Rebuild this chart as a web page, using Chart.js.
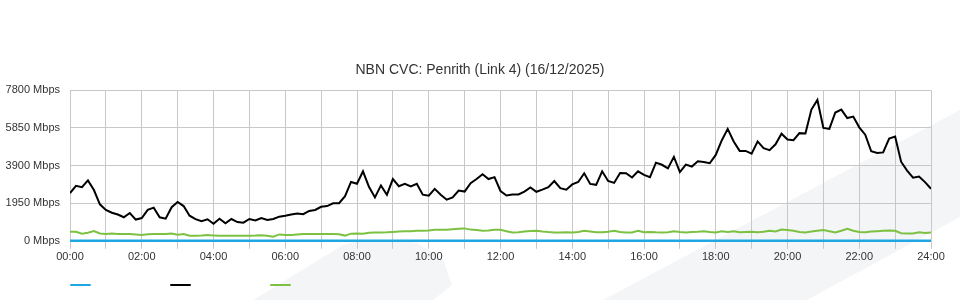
<!DOCTYPE html>
<html>
<head>
<meta charset="utf-8">
<title>NBN CVC: Penrith (Link 4)</title>
<script src="https://cdn.jsdelivr.net/npm/chart.js@4/dist/chart.umd.min.js"></script>
<style>
  html, body { margin: 0; padding: 0; background: #fff; }
  #wrap { position: relative; width: 960px; height: 300px; overflow: hidden; }
  #bg { position: absolute; left: 0; top: 0; }
  #chart { position: absolute; left: 0; top: 0; }
  #legend { position: absolute; left: 70px; top: 284px; display: flex; }
  #legend span { display: block; width: 21px; height: 2px; margin-right: 79px; border-radius: 1px; }
</style>
</head>
<body>
<div id="wrap">
  <!-- faint watermark behind the chart -->
  <svg id="bg" width="960" height="300">
    <path d="M253,300 L343,245 Q372,236 417,243 L443,259 L452,285 L433,300 Z" fill="#f4f5f7"/>
    <path d="M603,300 L960,110 L960,217 L807,300 Z" fill="#f4f5f7"/>
  </svg>
  <canvas id="chart" width="960" height="300"></canvas>
  <div id="legend"></div>
</div>
<script>
// ==================== DATA (10 minute samples, Mbps) ====================
const yTicks = [0, 1950, 3900, 5850, 7800];

const cvcTraffic = [
  2468, 2850, 2780, 3130, 2630, 1890, 1600, 1455, 1363, 1220, 1440, 1100,
  1180, 1600, 1720, 1220, 1150, 1739, 2015, 1800, 1300, 1120, 1010, 1115,
  880, 1140, 904, 1130, 970, 940, 1130, 1050, 1180, 1080, 1130, 1252,
  1300, 1365, 1415, 1380, 1550, 1600, 1760, 1800, 1940, 1948, 2313, 3050,
  2955, 3600, 2800, 2250, 2870, 2380, 3200, 2830, 2950, 2820, 2955, 2390,
  2340, 2690, 2384, 2130, 2250, 2608, 2550, 2990, 3200, 3450, 3200, 3300,
  2580, 2350, 2400, 2400, 2550, 2760, 2540, 2650, 2780, 3100, 2730, 2650,
  2922, 3050, 3500, 2950, 2900, 3600, 3100, 3000, 3513, 3500, 3280, 3600,
  3420, 3300, 4050, 3940, 3750, 4350, 3565, 3950, 3850, 4120, 4080, 4020,
  4450, 5200, 5800, 5150, 4660, 4660, 4520, 5150, 4800, 4700, 5000, 5550,
  5250, 5217, 5580, 5566, 6800, 7300, 5850, 5800, 6650, 6800, 6360, 6440,
  5880, 5500, 4640, 4550, 4580, 5300, 5400, 4100, 3640, 3270, 3330, 3040,
  2697
];

const cvcOther = [
  470, 470, 370, 420, 500, 380, 350, 380, 350, 350, 350, 330,
  300, 340, 350, 350, 350, 380, 320, 350, 260, 260, 270, 300,
  280, 260, 260, 260, 260, 260, 260, 270, 290, 260, 210, 330,
  300, 300, 330, 350, 350, 350, 350, 350, 350, 340, 270, 370,
  380, 370, 420, 430, 430, 440, 460, 485, 490, 500, 520, 520,
  540, 574, 574, 574, 600, 620, 643, 580, 560, 520, 540, 574,
  570, 500, 433, 440, 480, 510, 520, 480, 450, 430, 430, 440,
  430, 460, 520, 480, 440, 440, 470, 520, 460, 430, 430, 520,
  440, 460, 440, 430, 440, 500, 460, 430, 450, 470, 500, 460,
  430, 490, 460, 490, 440, 460, 470, 440, 470, 520, 480, 580,
  560, 520, 460, 433, 480, 520, 560, 500, 433, 520, 620, 520,
  460, 440, 480, 500, 520, 540, 520, 390, 380, 380, 440, 400,
  433
];

const cvcZero = cvcTraffic.map(() => 0);

// time of day in hours for each sample
const hours = cvcTraffic.map((_, i) => i / 6);

const seriesColors = ['#1ea7e1', '#000000', '#7cc142'];

function toPoints(vals) {
  return vals.map((v, i) => ({ x: hours[i], y: v }));
}

const FONT = '"Liberation Sans", Arial, Helvetica, sans-serif';

// centre the title on the whole canvas, not on the padded box
const centreTitle = {
  id: 'centreTitle',
  afterLayout(chart) {
    const t = chart.titleBlock;
    if (!t) return;
    t.left = 0;
    t.right = chart.width;
    t.width = chart.width;
  }
};

const chart = new Chart(document.getElementById('chart'), {
  type: 'line',
  data: {
    datasets: [
      { label: '', data: toPoints(cvcZero), borderColor: seriesColors[0], backgroundColor: seriesColors[0], borderWidth: 2.5, pointRadius: 0, clip: 4, order: 0 },
      { label: '', data: toPoints(cvcTraffic), borderColor: seriesColors[1], backgroundColor: seriesColors[1], borderWidth: 2, pointRadius: 0, tension: 0, order: 1 },
      { label: '', data: toPoints(cvcOther), borderColor: seriesColors[2], backgroundColor: seriesColors[2], borderWidth: 2, pointRadius: 0, tension: 0, order: 2 }
    ]
  },
  plugins: [centreTitle],
  options: {
    responsive: false,
    animation: false,
    layout: { padding: { top: 0, right: 29, bottom: 34, left: 0 } },
    plugins: {
      legend: { display: false },
      tooltip: { enabled: false },
      title: {
        display: true,
        text: 'NBN CVC: Penrith (Link 4) (16/12/2025)',
        color: '#333',
        font: { family: FONT, size: 14, weight: 'normal' },
        padding: { top: 62, bottom: 11.5 }
      }
    },
    scales: {
      x: {
        type: 'linear',
        min: 0,
        max: 24,
        grid: { color: '#c8c8c8', lineWidth: 1, tickLength: 8 },
        border: { color: '#c8c8c8' },
        ticks: {
          stepSize: 1,
          autoSkip: false,
          maxRotation: 0,
          padding: 2,
          color: '#333',
          font: { family: FONT, size: 11 },
          callback: v => (v % 2 === 0 ? String(v).padStart(2, '0') + ':00' : '')
        }
      },
      y: {
        min: 0,
        max: 7800,
        afterFit: s => { s.width = 70; },
        afterBuildTicks: s => { s.ticks = yTicks.map(v => ({ value: v })); },
        grid: { color: '#c8c8c8', lineWidth: 1, drawTicks: false },
        border: { color: '#c8c8c8' },
        ticks: {
          padding: 10,
          color: '#333',
          font: { family: FONT, size: 11 },
          callback: v => v + ' Mbps'
        }
      }
    }
  }
});

// legend swatches (no text in the original)
const legendEl = document.getElementById('legend');
chart.data.datasets.forEach(ds => {
  const sw = document.createElement('span');
  sw.style.background = ds.borderColor;
  legendEl.appendChild(sw);
});
</script>
</body>
</html>
